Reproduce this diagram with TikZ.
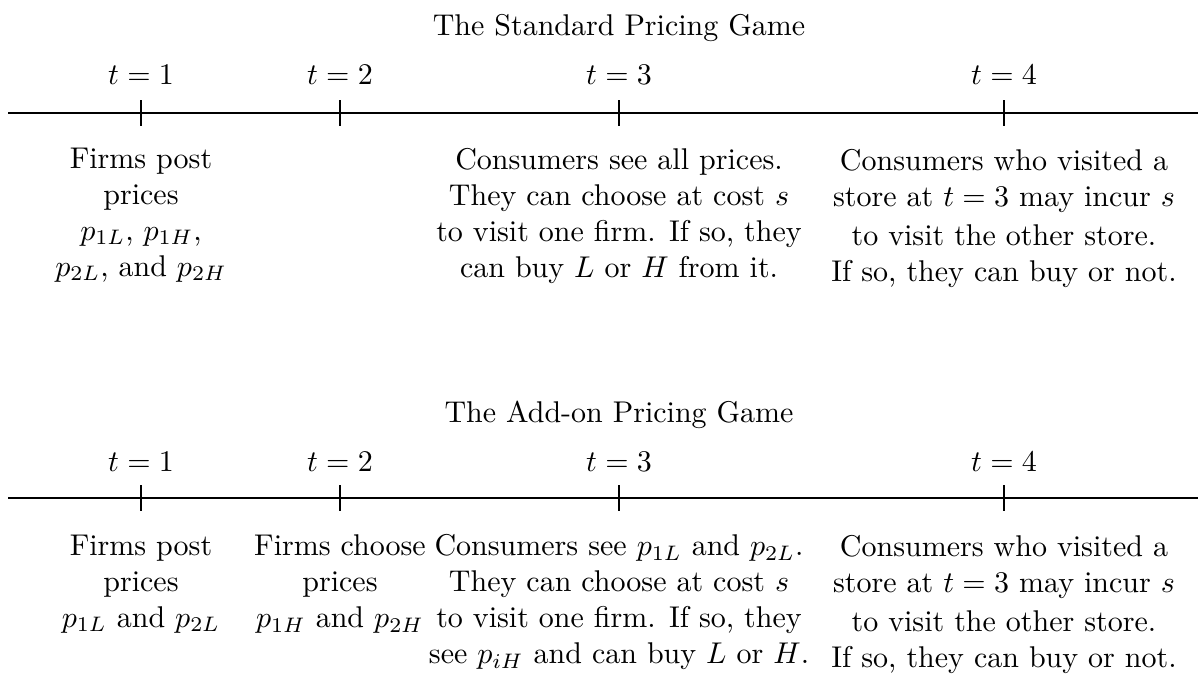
\documentclass[tikz,border=0pt]{standalone}
\usepackage{amsmath}
\usetikzlibrary{positioning}

\begin{document}
\begin{tikzpicture}[
tlabel/.style={inner sep=2pt},
desc/.style={align=center,anchor=north},
gametitle/.style={inner sep=2pt}]
\useasboundingbox (0,0) rectangle (14.035,-7.93);
% standard pricing game
\node[gametitle] (ST) at (7.252,-0.33) {The Standard Pricing Game};
\coordinate (S0) at (0.094,-1.324);
\coordinate (S9) at (14.035,-1.324);
\coordinate (S1) at (1.652,-1.324);
\coordinate (S2) at (3.983,-1.324);
\coordinate (S3) at (7.252,-1.324);
\coordinate (S4) at (11.762,-1.324);
\draw (S0)--(S9);
\draw ([yshift=4.2pt]S1)--([yshift=-4.2pt]S1);
\draw ([yshift=4.2pt]S2)--([yshift=-4.2pt]S2);
\draw ([yshift=4.2pt]S3)--([yshift=-4.2pt]S3);
\draw ([yshift=4.2pt]S4)--([yshift=-4.2pt]S4);
\node[tlabel] (St1) at (1.652,-0.879) {$t=1$};
\node[tlabel] (St2) at (3.983,-0.879) {$t=2$};
\node[tlabel] (St3) at (7.252,-0.879) {$t=3$};
\node[tlabel] (St4) at (11.762,-0.879) {$t=4$};
\node[desc] (Sd1) at (1.652,-1.61) {Firms post\\prices\\$p_{1L}$, $p_{1H}$,\\$p_{2L}$, and $p_{2H}$};
\node[desc] (Sd3) at (7.252,-1.61) {Consumers see all prices.\\They can choose at cost $s$\\to visit one firm. If so, they\\can buy $L$ or $H$ from it.};
\node[desc] (Sd4) at (11.762,-1.63) {Consumers who visited a\\store at $t=3$ may incur $s$\\[1pt]to visit the other store.\\If so, they can buy or not.};
% add-on pricing game
\node[gametitle] (AT) at (7.252,-4.862) {The Add-on Pricing Game};
\coordinate (A0) at (0.094,-5.834);
\coordinate (A9) at (14.035,-5.834);
\coordinate (A1) at (1.652,-5.834);
\coordinate (A2) at (3.983,-5.834);
\coordinate (A3) at (7.252,-5.834);
\coordinate (A4) at (11.762,-5.834);
\draw (A0)--(A9);
\draw ([yshift=4.2pt]A1)--([yshift=-4.2pt]A1);
\draw ([yshift=4.2pt]A2)--([yshift=-4.2pt]A2);
\draw ([yshift=4.2pt]A3)--([yshift=-4.2pt]A3);
\draw ([yshift=4.2pt]A4)--([yshift=-4.2pt]A4);
\node[tlabel] (At1) at (1.652,-5.412) {$t=1$};
\node[tlabel] (At2) at (3.983,-5.412) {$t=2$};
\node[tlabel] (At3) at (7.252,-5.412) {$t=3$};
\node[tlabel] (At4) at (11.762,-5.412) {$t=4$};
\node[desc] (Ad1) at (1.652,-6.14) {Firms post\\prices\\$p_{1L}$ and $p_{2L}$};
\node[desc] (Ad2) at (3.983,-6.14) {Firms choose\\prices\\$p_{1H}$ and $p_{2H}$};
\node[desc] (Ad3) at (7.252,-6.14) {Consumers see $p_{1L}$ and $p_{2L}$.\\They can choose at cost $s$\\to visit one firm. If so, they\\see $p_{iH}$ and can buy $L$ or $H$.};
\node[desc] (Ad4) at (11.762,-6.15) {Consumers who visited a\\store at $t=3$ may incur $s$\\[1pt]to visit the other store.\\If so, they can buy or not.};
\end{tikzpicture}
\end{document}
